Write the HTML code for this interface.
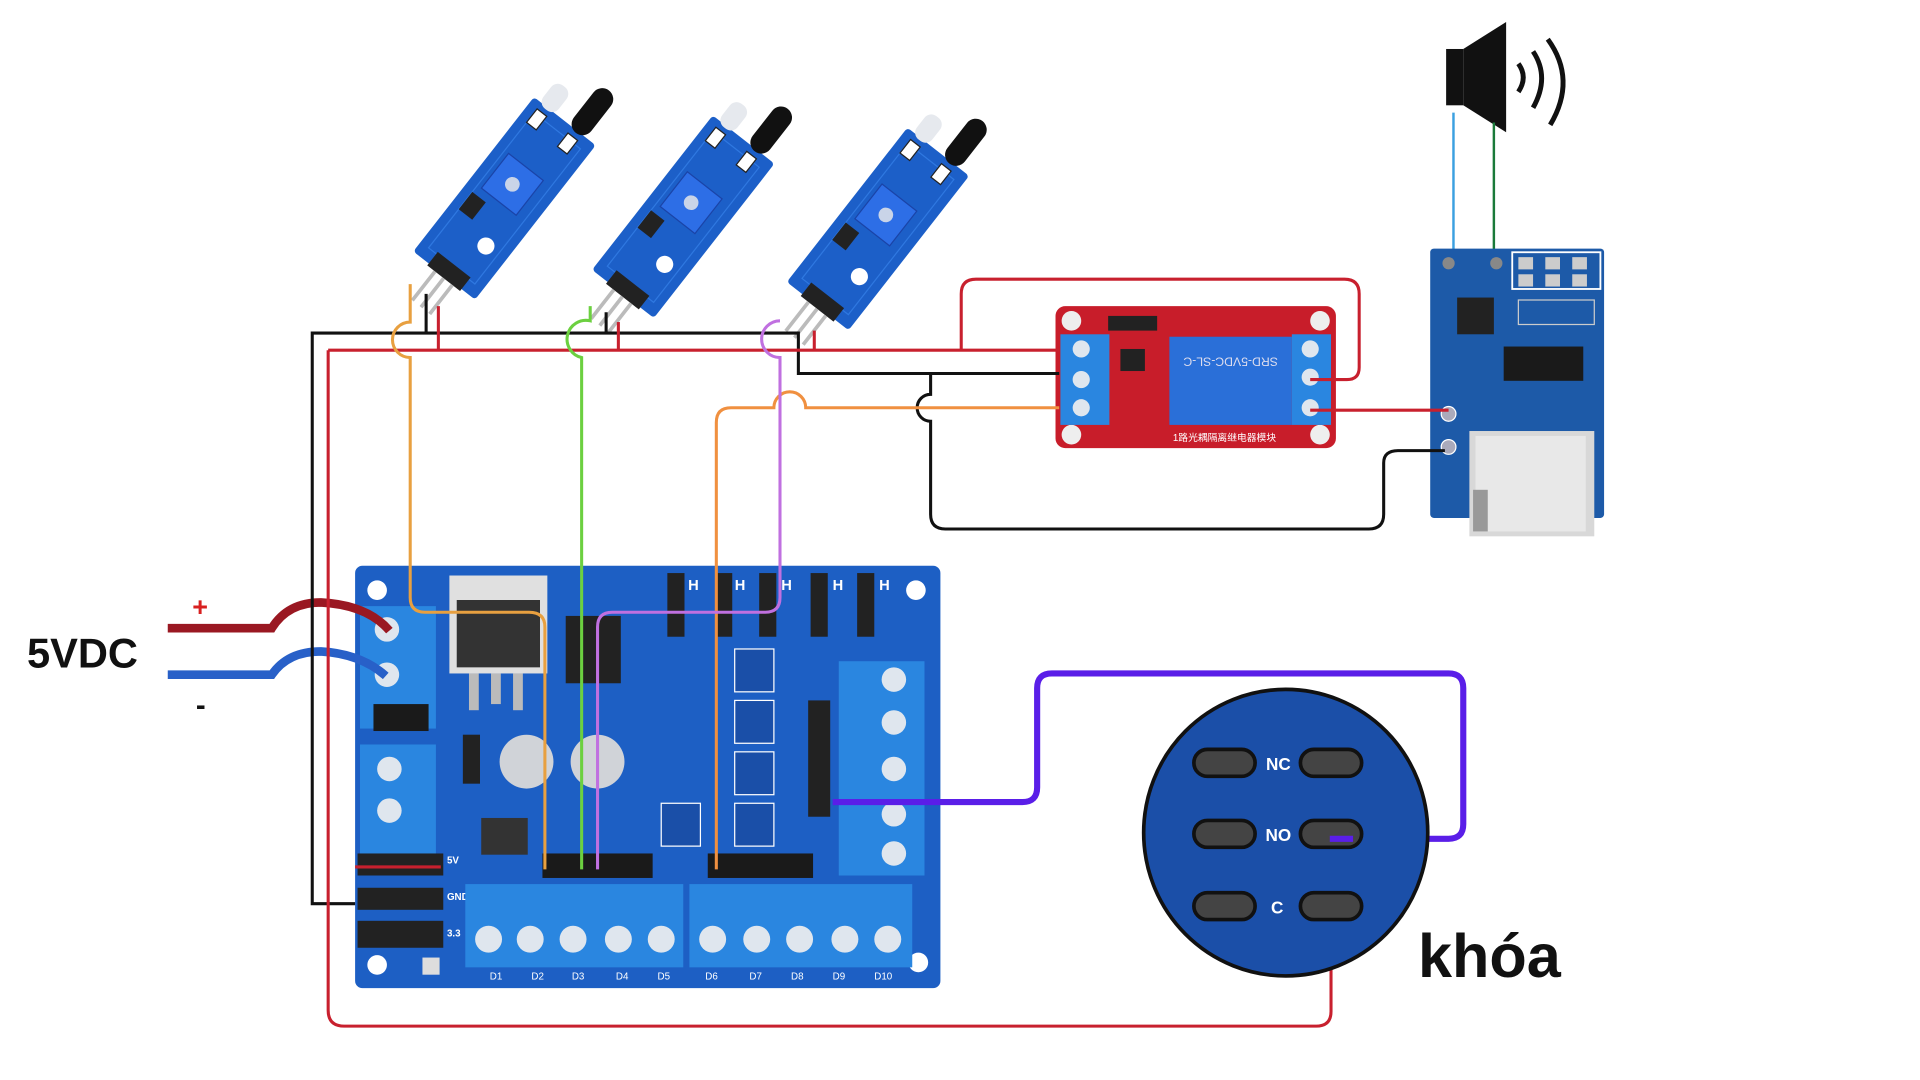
<!DOCTYPE html>
<html><head><meta charset="utf-8"><style>
html,body{margin:0;padding:0;background:#fff;width:1920px;height:1080px;overflow:hidden}
svg{display:block}
text{font-family:"Liberation Sans",sans-serif}
</style></head><body>
<svg width="1920" height="1080" viewBox="0 0 1568 882" preserveAspectRatio="none" xmlns="http://www.w3.org/2000/svg">
<defs>
<g id="sensor">
  <rect x="-80" y="-32" width="160" height="64" rx="3" fill="#1c5fc8"/>
  <rect x="-70" y="-24" width="140" height="48" fill="none" stroke="#2f78e0" stroke-width="1"/>
  <rect x="-5" y="-20" width="36" height="36" fill="#2d6ee6" stroke="#1a44a8"/>
  <circle cx="13" cy="-2" r="6" fill="#c9d4e8"/>
  <rect x="-30" y="-24" width="18" height="14" fill="#222"/>
  <circle cx="-40" cy="12" r="7" fill="#fff"/>
  <rect x="-82" y="-16" width="14" height="34" fill="#222"/>
  <line x1="-82" y1="-8" x2="-112" y2="-8" stroke="#bbb" stroke-width="3"/>
  <line x1="-82" y1="1" x2="-112" y2="1" stroke="#bbb" stroke-width="3"/>
  <line x1="-82" y1="10" x2="-112" y2="10" stroke="#bbb" stroke-width="3"/>
  <rect x="78" y="-26" width="24" height="16" rx="7" fill="#e6e9ee"/>
  <rect x="78" y="4" width="44" height="18" rx="9" fill="#111"/>
  <rect x="60" y="-24" width="14" height="10" fill="#fff" stroke="#222"/>
  <rect x="60" y="8" width="14" height="10" fill="#fff" stroke="#222"/>
</g>
</defs>

<!-- speaker -->
<rect x="1181" y="40" width="14" height="46" fill="#111"/>
<polygon points="1195,40 1230,18 1230,108 1195,86" fill="#111"/>
<path d="M1240,52 Q1248,63 1240,75" stroke="#111" stroke-width="4" fill="none"/>
<path d="M1252,42 Q1266,63 1252,88" stroke="#111" stroke-width="4" fill="none"/>
<path d="M1264,32 Q1288,65 1266,102" stroke="#111" stroke-width="4" fill="none"/>
<line x1="1187" y1="92" x2="1187" y2="215" stroke="#3ba0e0" stroke-width="2"/>
<line x1="1220" y1="100" x2="1220" y2="212" stroke="#1a7a3a" stroke-width="2"/>

<!-- MP3 module -->
<rect x="1168" y="203" width="142" height="220" rx="3" fill="#1d5aa8"/>
<rect x="1235" y="206" width="72" height="30" fill="none" stroke="#fff" stroke-width="1.5"/>
<rect x="1240" y="210" width="12" height="10" fill="#ccc"/><rect x="1262" y="210" width="12" height="10" fill="#ccc"/><rect x="1284" y="210" width="12" height="10" fill="#ccc"/>
<rect x="1240" y="224" width="12" height="10" fill="#ccc"/><rect x="1262" y="224" width="12" height="10" fill="#ccc"/><rect x="1284" y="224" width="12" height="10" fill="#ccc"/>
<rect x="1190" y="243" width="30" height="30" fill="#222"/>
<rect x="1228" y="283" width="65" height="28" fill="#1a1a1a"/>
<rect x="1240" y="245" width="62" height="20" fill="none" stroke="#ccc"/>
<circle cx="1183" cy="215" r="5" fill="#888"/><circle cx="1222" cy="215" r="5" fill="#888"/>
<circle cx="1183" cy="338" r="6" fill="#aab" stroke="#fff"/><circle cx="1183" cy="365" r="6" fill="#aab" stroke="#fff"/>
<rect x="1200" y="352" width="102" height="86" fill="#d8d8d8"/>
<rect x="1205" y="356" width="90" height="78" fill="#e8e8e8"/>
<rect x="1203" y="400" width="12" height="34" fill="#999"/>

<!-- relay -->
<rect x="862" y="250" width="229" height="116" rx="8" fill="#c81d2a"/>
<circle cx="875" cy="262" r="8" fill="#eee"/><circle cx="1078" cy="262" r="8" fill="#eee"/>
<circle cx="875" cy="355" r="8" fill="#eee"/><circle cx="1078" cy="355" r="8" fill="#eee"/>
<rect x="866" y="273" width="40" height="74" fill="#2a86e0"/>
<circle cx="883" cy="285" r="7" fill="#dfe6ee"/><circle cx="883" cy="310" r="7" fill="#dfe6ee"/><circle cx="883" cy="333" r="7" fill="#dfe6ee"/>
<rect x="955" y="275" width="100" height="72" fill="#2a6fd8"/>
<text x="1005" y="300" font-size="10" fill="#dde" text-anchor="middle" transform="rotate(180 1005 296)">SRD-5VDC-SL-C</text>
<rect x="1055" y="273" width="32" height="74" fill="#2a86e0"/>
<circle cx="1070" cy="285" r="7" fill="#dfe6ee"/><circle cx="1070" cy="308" r="7" fill="#dfe6ee"/><circle cx="1070" cy="333" r="7" fill="#dfe6ee"/>
<rect x="905" y="258" width="40" height="12" fill="#222"/>
<rect x="915" y="285" width="20" height="18" fill="#222"/>
<text x="1000" y="360" font-size="8" fill="#fff" text-anchor="middle">1路光耦隔离继电器模块</text>

<!-- sensors -->
<use href="#sensor" transform="translate(412,162) rotate(-52)"/>
<use href="#sensor" transform="translate(558,177) rotate(-52)"/>
<use href="#sensor" transform="translate(717,187) rotate(-52)"/>

<!-- main board -->
<rect x="290" y="462" width="478" height="345" rx="6" fill="#1d5fc4"/>
<circle cx="308" cy="482" r="8" fill="#fff"/><circle cx="748" cy="482" r="8" fill="#fff"/>
<circle cx="308" cy="788" r="8" fill="#fff"/><circle cx="750" cy="786" r="8" fill="#fff"/>
<rect x="294" y="495" width="62" height="100" fill="#2a86e0"/>
<circle cx="316" cy="514" r="10" fill="#dfe6ee"/><circle cx="316" cy="551" r="10" fill="#dfe6ee"/>
<rect x="305" y="575" width="45" height="22" fill="#1a1a1a"/>
<rect x="294" y="608" width="62" height="92" fill="#2a86e0"/>
<circle cx="318" cy="628" r="10" fill="#dfe6ee"/><circle cx="318" cy="662" r="10" fill="#dfe6ee"/>
<rect x="367" y="470" width="80" height="80" fill="#e0e0e0"/>
<rect x="373" y="490" width="68" height="55" fill="#333"/>
<rect x="383" y="550" width="8" height="30" fill="#bbb"/><rect x="401" y="550" width="8" height="25" fill="#bbb"/><rect x="419" y="550" width="8" height="30" fill="#bbb"/>
<rect x="462" y="503" width="45" height="55" fill="#222"/>
<circle cx="430" cy="622" r="22" fill="#d0d3d8"/><circle cx="488" cy="622" r="22" fill="#d0d3d8"/>
<rect x="378" y="600" width="14" height="40" fill="#222"/>
<rect x="393" y="668" width="38" height="30" fill="#333"/>
<g fill="#222">
<rect x="545" y="468" width="14" height="52"/><rect x="584" y="468" width="14" height="52"/><rect x="620" y="468" width="14" height="52"/>
<rect x="662" y="468" width="14" height="52"/><rect x="700" y="468" width="14" height="52"/>
</g>
<g fill="#fff" font-size="12" font-weight="bold">
<text x="562" y="482">H</text><text x="600" y="482">H</text><text x="638" y="482">H</text><text x="680" y="482">H</text><text x="718" y="482">H</text>
</g>
<rect x="600" y="530" width="32" height="35" fill="#1a4fa8" stroke="#fff"/>
<rect x="600" y="572" width="32" height="35" fill="#1a4fa8" stroke="#fff"/>
<rect x="600" y="614" width="32" height="35" fill="#1a4fa8" stroke="#fff"/>
<rect x="600" y="656" width="32" height="35" fill="#1a4fa8" stroke="#fff"/>
<rect x="540" y="656" width="32" height="35" fill="#1a4fa8" stroke="#fff"/>
<rect x="660" y="572" width="18" height="95" fill="#222"/>
<rect x="685" y="540" width="70" height="175" fill="#2a86e0"/>
<circle cx="730" cy="555" r="10" fill="#dfe6ee"/><circle cx="730" cy="590" r="10" fill="#dfe6ee"/><circle cx="730" cy="628" r="10" fill="#dfe6ee"/><circle cx="730" cy="665" r="10" fill="#dfe6ee"/><circle cx="730" cy="697" r="10" fill="#dfe6ee"/>
<rect x="443" y="697" width="90" height="20" fill="#1a1a1a"/>
<rect x="578" y="697" width="86" height="20" fill="#1a1a1a"/>
<rect x="292" y="697" width="70" height="18" fill="#222"/>
<rect x="292" y="725" width="70" height="18" fill="#222"/>
<rect x="292" y="752" width="70" height="22" fill="#222"/>
<g fill="#fff" font-size="8" font-weight="bold"><text x="365" y="705">5V</text><text x="365" y="735">GND</text><text x="365" y="765">3.3</text></g>
<rect x="345" y="782" width="14" height="14" fill="#ddd"/>
<rect x="380" y="722" width="178" height="68" fill="#2a86e0"/>
<rect x="563" y="722" width="182" height="68" fill="#2a86e0"/>
<g fill="#dfe6ee">
<circle cx="399" cy="767" r="11"/><circle cx="433" cy="767" r="11"/><circle cx="468" cy="767" r="11"/><circle cx="505" cy="767" r="11"/><circle cx="540" cy="767" r="11"/>
<circle cx="582" cy="767" r="11"/><circle cx="618" cy="767" r="11"/><circle cx="653" cy="767" r="11"/><circle cx="690" cy="767" r="11"/><circle cx="725" cy="767" r="11"/>
</g>
<g fill="#fff" font-size="8"><text x="400" y="800">D1</text><text x="434" y="800">D2</text><text x="467" y="800">D3</text><text x="503" y="800">D4</text><text x="537" y="800">D5</text><text x="576" y="800">D6</text><text x="612" y="800">D7</text><text x="646" y="800">D8</text><text x="680" y="800">D9</text><text x="714" y="800">D10</text></g>

<!-- power input -->
<text x="22" y="545" font-size="34" font-weight="bold" fill="#111">5VDC</text>
<text x="157" y="503" font-size="22" font-weight="bold" fill="#d82020">+</text>
<text x="160" y="584" font-size="24" font-weight="bold" fill="#111">-</text>
<path d="M137,513 H222 Q235,492 262,492 Q300,494 318,515" stroke="#9a1822" stroke-width="7" fill="none"/>
<path d="M137,551 H222 Q235,532 262,532 Q295,534 315,552" stroke="#2860c8" stroke-width="7" fill="none"/>

<!-- wires -->
<g fill="none" stroke-width="2.5">
<path d="M290,738 H255 V272 H652 V305 H865" stroke="#111"/>
<path d="M760,305 V322 A11,11 0 0 0 760,344 V420 Q760,432 772,432 H1118 Q1130,432 1130,420 V378 Q1130,368 1142,368 H1180" stroke="#111"/>
<line x1="348" y1="240" x2="348" y2="272" stroke="#111"/>
<line x1="495" y1="255" x2="495" y2="272" stroke="#111"/>
<path d="M360,708 H290" stroke="#c8202e"/>
<path d="M268,286 H865" stroke="#c8202e"/>
<path d="M268,286 V825 Q268,838 281,838 H1075 Q1087,838 1087,826 V740" stroke="#c8202e"/>
<path d="M785,286 V240 Q785,228 797,228 H1098 Q1110,228 1110,240 V300 Q1110,310 1100,310 H1070" stroke="#c8202e"/>
<path d="M1070,335 H1183" stroke="#c8202e"/>
<line x1="358" y1="250" x2="358" y2="286" stroke="#c8202e"/>
<line x1="505" y1="263" x2="505" y2="286" stroke="#c8202e"/>
<line x1="665" y1="270" x2="665" y2="286" stroke="#c8202e"/>
<path d="M335,232 V263 A11,11 0 0 0 335,292 V488 Q335,500 347,500 H432 Q445,500 445,512 V710" stroke="#e8a040"/>
<path d="M865,333 H658 A13,13 0 0 0 632,333 H597 Q585,333 585,345 V710" stroke="#f09040"/>
<path d="M482,250 V262 A12,12 0 0 0 475,292 V710" stroke="#6cd040"/>
<path d="M637,262 A12,12 0 0 0 637,292 V488 Q637,500 625,500 H500 Q488,500 488,512 V710" stroke="#c070e0"/>
<path d="M680,655 H835 Q847,655 847,643 V562 Q847,550 859,550 H1183 Q1195,550 1195,562 V673 Q1195,685 1183,685 H1105" stroke="#5a1ee8" stroke-width="5"/>
</g>

<!-- lock -->
<ellipse cx="1050" cy="680" rx="116" ry="117" fill="#1b4fa8" stroke="#111" stroke-width="3"/>
<g fill="#444" stroke="#111" stroke-width="3">
<rect x="975" y="612" width="50" height="22" rx="11"/><rect x="1062" y="612" width="50" height="22" rx="11"/>
<rect x="975" y="670" width="50" height="22" rx="11"/><rect x="1062" y="670" width="50" height="22" rx="11"/>
<rect x="975" y="729" width="50" height="22" rx="11"/><rect x="1062" y="729" width="50" height="22" rx="11"/>
</g>
<path d="M1105,685 H1086" stroke="#5a1ee8" stroke-width="5"/>
<g fill="#fff" font-size="14" font-weight="bold" text-anchor="middle">
<text x="1044" y="629">NC</text><text x="1044" y="687">NO</text><text x="1043" y="746">C</text>
</g>
<text x="1158" y="798" font-size="50" font-weight="bold" fill="#111">khóa</text>
</svg>
</body></html>
